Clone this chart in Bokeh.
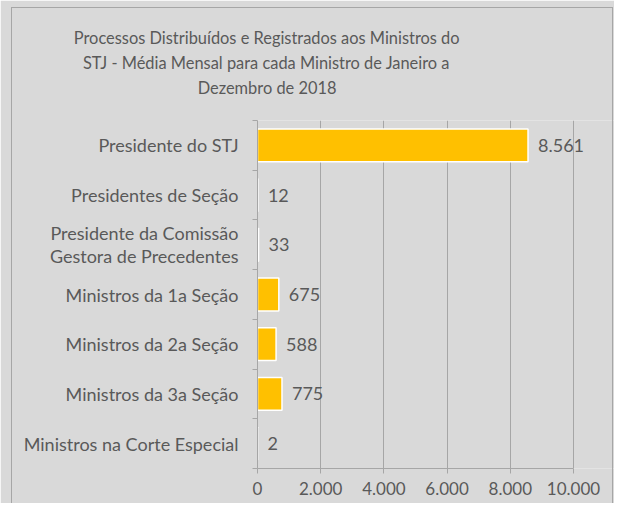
from bokeh.plotting import figure
from bokeh.models import ColumnDataSource, FixedTicker, LabelSet, Range1d, Title, InlineStyleSheet
from bokeh.core.properties import value
from bokeh.embed import file_html
from bokeh.resources import INLINE

title_lines = ["Processos Distribuídos e Registrados aos Ministros do",
               "STJ - Média Mensal para cada Ministro de Janeiro a",
               "Dezembro de 2018"]
categories = ["Presidente do STJ", "Presidentes de Seção",
              "Presidente da Comissão\nGestora de Precedentes",
              "Ministros da 1a Seção", "Ministros da 2a Seção",
              "Ministros da 3a Seção", "Ministros na Corte Especial"]
values = [8561, 12, 33, 675, 588, 775, 2]
x_ticks = [0, 2000, 4000, 6000, 8000, 10000]
x_tick_labels = ["0", "2.000", "4.000", "6.000", "8.000", "10.000"]

FONT = "Lato"
FS = "18px"
TXT = "#595959"
BG = "#d9d9d9"
GRID = "#a6a6a6"

n = len(categories)
ypos = [n - i - 0.5 for i in range(n)]
labels = [f"{v:,}".replace(",", ".") for v in values]
src = ColumnDataSource(dict(y=ypos, v=values, lab=labels))

W, H = 614, 503
left, top, bottom = 257, 120, 468
xmax = x_ticks[-1] * (W - left) / 316.0

# chart-area border (decorative frame around the whole chart)
border_css = InlineStyleSheet(css="""
:host { position: relative; }
:host::after { content: ""; position: absolute; left: 11px; top: 7px; right: 1px; bottom: 0px;
  border: 1px solid #a6a6a6; border-bottom: none; pointer-events: none; }
""")

p = figure(width=W, height=H, output_backend="svg", toolbar_location=None,
           x_range=Range1d(0, xmax), y_range=Range1d(0, n),
           min_border_left=left, min_border_right=0, min_border_top=top,
           min_border_bottom=H - bottom, stylesheets=[border_css])
p.background_fill_color = BG
p.border_fill_color = BG
p.outline_line_color = None

p.hbar(y="y", right="v", left=0, height=0.66, source=src, fill_color="#ffc000",
       line_color="white", line_width=1.5)

# x axis
p.xaxis.ticker = FixedTicker(ticks=x_ticks)
p.xaxis.bounds = (x_ticks[0], x_ticks[-1])
p.xaxis.major_label_overrides = {t: l for t, l in zip(x_ticks, x_tick_labels)}
p.xaxis.axis_line_color = GRID
p.xaxis.major_tick_line_color = GRID
p.xaxis.major_tick_out = 5
p.xaxis.major_tick_in = 0
p.xaxis.minor_tick_line_color = None
p.xaxis.major_label_text_font = FONT
p.xaxis.major_label_text_font_size = "17px"
p.xaxis.major_label_text_color = TXT
p.xaxis.major_label_standoff = 8

# y axis: labels at category centres, tick marks between categories
p.yaxis.ticker = FixedTicker(ticks=ypos, minor_ticks=list(range(n + 1)))
p.yaxis.major_label_overrides = {y: c for y, c in zip(ypos, categories)}
p.yaxis.axis_line_color = GRID
p.yaxis.major_tick_line_color = None
p.yaxis.major_tick_out = 0
p.yaxis.major_tick_in = 0
p.yaxis.minor_tick_line_color = GRID
p.yaxis.minor_tick_out = 5
p.yaxis.minor_tick_in = 0
p.yaxis.major_label_text_font = FONT
p.yaxis.major_label_text_font_size = FS
p.yaxis.major_label_text_color = TXT
p.yaxis.major_label_text_line_height = 1.06
p.yaxis.major_label_standoff = 14

p.xgrid.grid_line_color = GRID
p.xgrid.grid_line_width = 1
p.ygrid.grid_line_color = None

p.add_layout(LabelSet(x="v", y="y", text="lab", source=src, x_offset=10,
                      text_baseline="middle", text_font=value(FONT), text_font_size=FS,
                      text_color=TXT))

# title: spacer + three lines (closest to frame first)
p.add_layout(Title(text=" ", text_font_size="15px", standoff=2), "above")
offsets = [-183.7, -174.6, -59.8]
for line, off in reversed(list(zip(title_lines, offsets))):
    p.add_layout(Title(text=line, align="left", offset=off, standoff=4.4,
                       text_font=FONT, text_font_size="16.4px", text_font_style="normal",
                       text_color=TXT), "above")

open("out.html", "w").write(file_html(p, INLINE))
